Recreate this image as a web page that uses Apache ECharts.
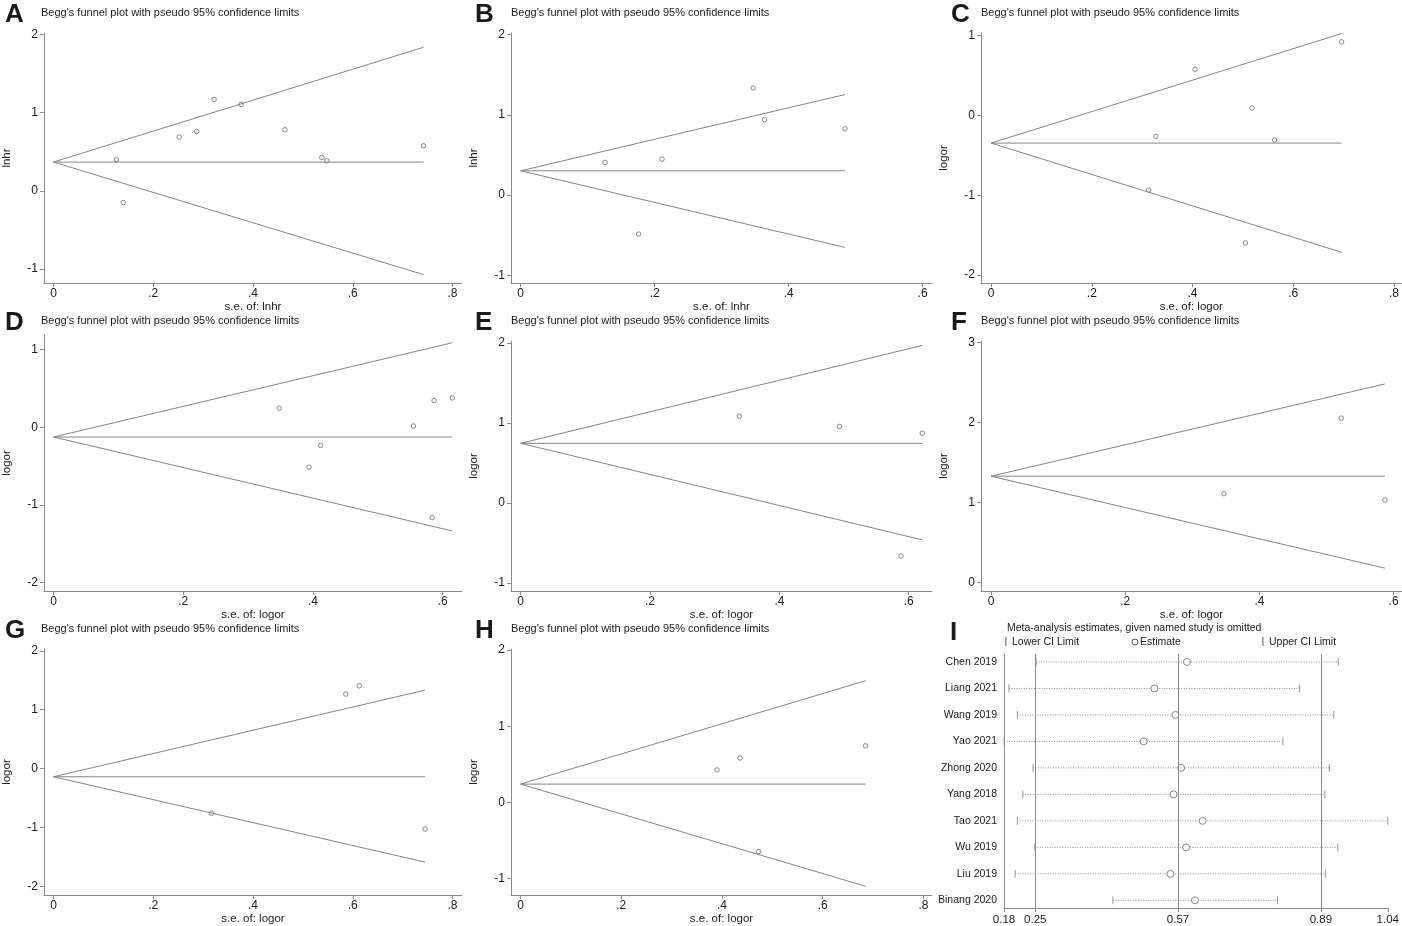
<!DOCTYPE html>
<html>
<head>
	<meta charset="UTF-8">
	<title>Begg's funnel plots and sensitivity analysis</title>
	<style>
		html, body{margin: 0;padding: 0;background: #fff;}
		#chart{width: 1402px;height: 926px;}
	</style>
</head>
<body>
<div id="chart"></div>
<script src="https://cdn.jsdelivr.net/npm/echarts@6/dist/echarts.min.js"></script>
<script type="text/javascript">
    // funnel plot data: s.e. (x) and effect (y) per study
    var seA = [0.126, 0.140, 0.252, 0.287, 0.322, 0.376, 0.464, 0.538, 0.548, 0.742];
    var esA = [0.397, -0.150, 0.688, 0.761, 1.171, 1.107, 0.782, 0.427, 0.385, 0.577];
    var seB = [0.126, 0.176, 0.211, 0.347, 0.364, 0.484];
    var esB = [0.407, -0.485, 0.448, 1.336, 0.942, 0.826];
    var seC = [0.313, 0.327, 0.405, 0.505, 0.518, 0.563, 0.696];
    var esC = [-0.934, -0.262, 0.579, -1.597, 0.093, -0.308, 0.924];
    var seD = [0.348, 0.394, 0.412, 0.555, 0.584, 0.587, 0.615];
    var esD = [0.246, -0.513, -0.233, 0.017, -1.164, 0.345, 0.379];
    var seE = [0.338, 0.493, 0.588, 0.621];
    var esE = [1.086, 0.956, -0.662, 0.872];
    var seF = [0.347, 0.522, 0.587];
    var esF = [1.110, 2.053, 1.030];
    var seG = [0.317, 0.586, 0.613, 0.745];
    var esG = [-0.758, 1.264, 1.404, -1.028];
    var seH = [0.390, 0.436, 0.473, 0.685];
    var esH = [0.426, 0.582, -0.647, 0.743];

    // pseudo 95% limits: [pooled estimate, largest s.e., upper limit, lower limit]
    var limA = [0.368, 0.742, 1.838, -1.073];
    var limB = [0.303, 0.484, 1.253, -0.651];
    var limC = [-0.346, 0.696, 1.027, -1.715];
    var limD = [-0.125, 0.615, 1.090, -1.336];
    var limE = [0.746, 0.621, 1.970, -0.461];
    var limF = [1.328, 0.587, 2.480, 0.180];
    var limG = [-0.140, 0.745, 1.331, -1.590];
    var limH = [0.239, 0.685, 1.598, -1.103];

    // tick labels
    var xTicks8 = [0, 0.2, 0.4, 0.6, 0.8];
    var xTicks6 = [0, 0.2, 0.4, 0.6];
    var yTicksA = [-1, 0, 1, 2];
    var yTicksC = [-2, -1, 0, 1];
    var yTicksF = [0, 1, 2, 3];
    var yTicksG = [-2, -1, 0, 1, 2];

    // sensitivity analysis (panel I)
    var studies = ['Chen 2019', 'Liang 2021', 'Wang 2019', 'Yao 2021', 'Zhong 2020', 'Yang 2018', 'Tao 2021', 'Wu 2019', 'Liu 2019', 'Binang 2020'];
    var ciLower = [0.252, 0.191, 0.210, 0.180, 0.245, 0.222, 0.210, 0.249, 0.205, 0.424];
    var estimate = [0.590, 0.517, 0.564, 0.493, 0.577, 0.560, 0.625, 0.588, 0.553, 0.608];
    var ciUpper = [0.929, 0.842, 0.919, 0.805, 0.909, 0.899, 1.040, 0.928, 0.900, 0.793];
    var refTicks = [0.18, 0.25, 0.57, 0.89, 1.04];
    var refLines = [0.25, 0.57, 0.89];

    var panels = [
        {tag: 'A', se: seA, es: esA, lim: limA, xt: xTicks8, yt: yTicksA, v: 'lnhr', xr: [-0.019, 0.819], yr: [-1.18, 2.02]},
        {tag: 'B', se: seB, es: esB, lim: limB, xt: xTicks6, yt: yTicksA, v: 'lnhr', xr: [-0.0144, 0.614], yr: [-1.095, 2.02]},
        {tag: 'C', se: seC, es: esC, lim: limC, xt: xTicks8, yt: yTicksC, v: 'logor', xr: [-0.02, 0.815], yr: [-2.10, 1.034]},
        {tag: 'D', se: seD, es: esD, lim: limD, xt: xTicks6, yt: yTicksC, v: 'logor', xr: [-0.0148, 0.63], yr: [-2.11, 1.19], top: 27},
        {tag: 'E', se: seE, es: esE, lim: limE, xt: xTicks6, yt: yTicksA, v: 'logor', xr: [-0.015, 0.636], yr: [-1.10, 2.025]},
        {tag: 'F', se: seF, es: esF, lim: limF, xt: xTicks6, yt: yTicksF, v: 'logor', xr: [-0.015, 0.6125], yr: [-0.105, 3.016]},
        {tag: 'G', se: seG, es: esG, lim: limG, xt: xTicks8, yt: yTicksG, v: 'logor', xr: [-0.019, 0.819], yr: [-2.15, 2.03]},
        {tag: 'H', se: seH, es: esH, lim: limH, xt: xTicks8, yt: yTicksA, v: 'logor', xr: [-0.019, 0.817], yr: [-1.22, 2.015]}
    ];

    var rowY = [0, 308, 616];
    var plotLeft = [41, 511, 981];
    var letterX = [5, 475, 951];
    var titleX = [41, 511, 981];

    var FONT = 'Liberation Sans, Arial, sans-serif';
    var TXT = '#1a1a1a';
    var GRAY = '#8a8a8a';

    var grid = [], xAxis = [], yAxis = [], series = [], graphic = [];

    function fmtX(v) {
        if (v === 0) return '0';
        return String(Math.round(v * 10) / 10).replace('0.', '.');
    }

    function txt(text, x, y, font, align) {
        return {
            type: 'text', silent: true,
            style: {text: text, x: x, y: y, font: font, fill: TXT,
                align: align || 'left', verticalAlign: 'middle',
                textAlign: align || 'left', textVerticalAlign: 'middle'}
        };
    }

    panels.forEach(function (p, i) {
        var c = i % 3, r = Math.floor(i / 3);
        var top = rowY[r] + (p.top || 33);
        var bottom = rowY[r] + 283;
        grid.push({left: plotLeft[c], top: top, width: 421, height: bottom - top});

        xAxis.push({
            type: 'value', gridIndex: i, min: p.xr[0], max: p.xr[1],
            name: 's.e. of: ' + p.v, nameLocation: 'middle', nameGap: 16,
            nameTextStyle: {fontFamily: FONT, fontSize: 11.5, color: TXT},
            axisLine: {show: true, onZero: false, lineStyle: {color: GRAY, width: 1}},
            axisTick: {show: true, length: 4, customValues: p.xt, lineStyle: {color: GRAY}},
            axisLabel: {customValues: p.xt, formatter: fmtX, margin: 5, fontFamily: FONT, fontSize: 12, color: TXT},
            splitLine: {show: false}
        });
        yAxis.push({
            type: 'value', gridIndex: i, min: p.yr[0], max: p.yr[1],
            name: p.v, nameLocation: 'middle', nameGap: 31, nameRotate: 90,
            nameTextStyle: {fontFamily: FONT, fontSize: 11.5, color: TXT},
            axisLine: {show: true, onZero: false, lineStyle: {color: GRAY, width: 1}},
            axisTick: {show: true, length: 4, customValues: p.yt, lineStyle: {color: GRAY}},
            axisLabel: {customValues: p.yt, margin: 6, fontFamily: FONT, fontSize: 12, color: TXT},
            splitLine: {show: false}
        });

        var L = p.lim;
        var lineStyle = {color: '#858585', width: 1};
        [[[0, L[0]], [L[1], L[0]]], [[0, L[0]], [L[1], L[2]]], [[0, L[0]], [L[1], L[3]]]].forEach(function (d) {
            series.push({type: 'line', xAxisIndex: i, yAxisIndex: i, data: d, showSymbol: false,
                lineStyle: lineStyle, silent: true});
        });
        series.push({
            type: 'scatter', xAxisIndex: i, yAxisIndex: i,
            data: p.se.map(function (s, k) { return [s, p.es[k]]; }),
            symbol: 'circle', symbolSize: 4.5,
            itemStyle: {color: '#fff', borderColor: '#6a6a6a', borderWidth: 1}
        });

        graphic.push(txt(p.tag, letterX[c], rowY[r] + 15, 'bold 26px ' + FONT));
        graphic.push(txt("Begg's funnel plot with pseudo 95% confidence limits", titleX[c], rowY[r] + 12.5, '11px ' + FONT));
    });

    // panel I: influence analysis
    var gi = panels.length;
    grid.push({left: 1004, top: 654, width: 386, height: 256});
    xAxis.push({
        type: 'value', gridIndex: gi, min: 0.18, max: 1.04,
        axisLine: {show: true, onZero: false, lineStyle: {color: GRAY, width: 1}},
        axisTick: {show: true, length: 4, customValues: refTicks, lineStyle: {color: GRAY}},
        axisLabel: {customValues: refTicks, formatter: function (v) { return v.toFixed(2); },
            margin: 6, fontFamily: FONT, fontSize: 11.5, color: TXT},
        splitLine: {show: false}
    });
    yAxis.push({
        type: 'value', gridIndex: gi, min: -0.3, max: 9.29, inverse: true,
        axisLine: {show: true, onZero: false, lineStyle: {color: GRAY, width: 1}},
        axisTick: {show: false},
        axisLabel: {customValues: studies.map(function (s, k) { return k; }),
            formatter: function (v) { return studies[v]; },
            margin: 7, fontFamily: FONT, fontSize: 10.5, color: TXT},
        splitLine: {show: false}
    });
    series.push({
        type: 'custom', xAxisIndex: gi, yAxisIndex: gi, silent: true,
        data: studies.map(function (s, k) { return [ciLower[k], k, ciUpper[k]]; }),
        encode: {x: [0, 2], y: 1},
        renderItem: function (params, api) {
            var a = api.coord([api.value(0), api.value(1)]);
            var b = api.coord([api.value(2), api.value(1)]);
            return {
                type: 'group', children: [
                    {type: 'line', shape: {x1: a[0], y1: a[1], x2: b[0], y2: b[1]},
                        style: {stroke: '#8c8c8c', lineWidth: 1, lineDash: [1, 1.5]}},
                    {type: 'line', shape: {x1: a[0], y1: a[1] - 4, x2: a[0], y2: a[1] + 4},
                        style: {stroke: '#9a9a9a', lineWidth: 1}},
                    {type: 'line', shape: {x1: b[0], y1: b[1] - 4, x2: b[0], y2: b[1] + 4},
                        style: {stroke: '#9a9a9a', lineWidth: 1}}
                ]
            };
        }
    });
    series.push({
        type: 'scatter', xAxisIndex: gi, yAxisIndex: gi,
        data: studies.map(function (s, k) { return [estimate[k], k]; }),
        symbol: 'circle', symbolSize: 7,
        itemStyle: {color: '#fff', borderColor: '#6a6a6a', borderWidth: 1},
        markLine: {
            silent: true, symbol: ['none', 'none'], label: {show: false},
            lineStyle: {color: '#8a8a8a', type: 'solid', width: 1},
            data: refLines.map(function (v) { return {xAxis: v}; })
        }
    });

    graphic.push(txt('I', 950, 633, 'bold 26px ' + FONT));
    graphic.push(txt('Meta-analysis estimates, given named study is omitted', 1007, 628.5, '10.5px ' + FONT));
    graphic.push(txt('|', 1006, 642, '9px ' + FONT, 'center'));
    graphic.push(txt('Lower CI Limit', 1012, 642, '10.5px ' + FONT));
    graphic.push({type: 'circle', silent: true, shape: {cx: 1135, cy: 642, r: 3},
        style: {fill: '#fff', stroke: '#555', lineWidth: 1}});
    graphic.push(txt('Estimate', 1140, 642, '10.5px ' + FONT));
    graphic.push(txt('|', 1263, 642, '9px ' + FONT, 'center'));
    graphic.push(txt('Upper CI Limit', 1269, 642, '10.5px ' + FONT));

    var chart = echarts.init(document.getElementById('chart'));
    chart.setOption({
        animation: false,
        backgroundColor: '#fff',
        grid: grid,
        xAxis: xAxis,
        yAxis: yAxis,
        series: series,
        graphic: graphic
    });
</script>
</body>
</html>
